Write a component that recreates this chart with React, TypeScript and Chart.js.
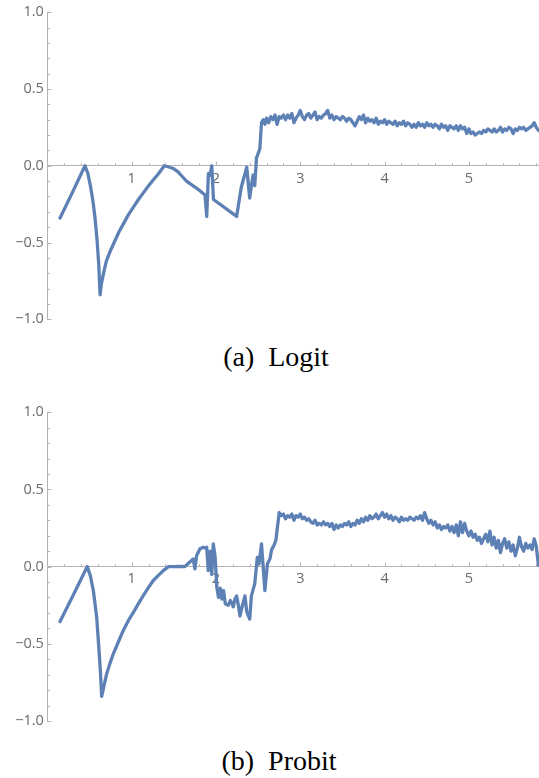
import React, { useEffect, useRef } from "react";
import { Chart, registerables } from "chart.js";

Chart.register(...registerables);

// ---------- data ----------
// Logit: irregular part (x, y)
const logitX = [0.15, 0.30, 0.446, 0.48, 0.51, 0.54, 0.565, 0.59, 0.61, 0.625, 0.64, 0.67, 0.70, 0.75, 0.80, 0.85, 0.90, 0.96, 1.02, 1.08, 1.14, 1.20, 1.26, 1.32, 1.387, 1.45, 1.50, 1.55, 1.60, 1.65, 1.70, 1.78, 1.87, 1.89, 1.91, 1.93, 1.95, 1.97, 2.245, 2.30, 2.365, 2.40, 2.42, 2.44, 2.46, 2.48, 2.52, 2.54, 2.56, 2.58];
const logitY = [-0.34, -0.17, 0.0, -0.05, -0.13, -0.23, -0.34, -0.49, -0.65, -0.84, -0.77, -0.69, -0.62, -0.55, -0.49, -0.43, -0.38, -0.32, -0.27, -0.22, -0.175, -0.13, -0.09, -0.05, 0.0, -0.01, -0.02, -0.04, -0.07, -0.10, -0.12, -0.15, -0.19, -0.33, -0.05, -0.06, 0.0, -0.22, -0.33, -0.14, -0.01, -0.21, -0.13, -0.06, -0.13, 0.05, 0.11, 0.28, 0.30, 0.27];
// Logit: densely sampled part, starting at x = 2.6, sample spacing 0.025
const logitDenseStart = 2.6;
const logitDenseY = [
  0.31, 0.28, 0.32, 0.30, 0.33, 0.27, 0.32, 0.31, 0.33, 0.30,
  0.33, 0.31, 0.34, 0.28, 0.31, 0.33, 0.36, 0.32, 0.30, 0.33,
  0.34, 0.31, 0.33, 0.35, 0.30, 0.32, 0.31, 0.33, 0.34, 0.36,
  0.31, 0.33, 0.30, 0.32, 0.31, 0.30, 0.32, 0.31, 0.29, 0.31,
  0.30, 0.28, 0.26, 0.29, 0.32, 0.30, 0.33, 0.28, 0.31, 0.29,
  0.30, 0.28, 0.31, 0.27, 0.29, 0.28, 0.30, 0.27, 0.29, 0.28,
  0.27, 0.29, 0.26, 0.28, 0.27, 0.29, 0.26, 0.28, 0.27, 0.25,
  0.27, 0.25, 0.28, 0.26, 0.27, 0.25, 0.28, 0.26, 0.27, 0.25,
  0.27, 0.26, 0.24, 0.27, 0.25, 0.26, 0.23, 0.26, 0.25, 0.24,
  0.26, 0.23, 0.26, 0.24, 0.25, 0.21, 0.24, 0.21, 0.22, 0.20,
  0.21, 0.22, 0.21, 0.23, 0.22, 0.24, 0.23, 0.22, 0.24, 0.22,
  0.23, 0.25, 0.22, 0.24, 0.23, 0.25, 0.24, 0.21, 0.24, 0.23,
  0.25, 0.24, 0.25, 0.23, 0.24, 0.25, 0.26, 0.28, 0.25, 0.23,
];

// Probit: irregular part (x, y)
const probitX = [0.15, 0.31, 0.473, 0.51, 0.545, 0.585, 0.612, 0.63, 0.644, 0.66, 0.703, 0.74, 0.782, 0.84, 0.90, 0.96, 1.02, 1.08, 1.137, 1.20, 1.256, 1.32, 1.375, 1.435, 1.50, 1.56, 1.63, 1.67, 1.69, 1.73, 1.75, 1.77, 1.81, 1.85, 1.87, 1.89, 1.908, 1.93, 1.95, 1.968, 1.99, 2.01, 2.03, 2.05, 2.07, 2.09, 2.11, 2.146, 2.17, 2.186, 2.205, 2.225, 2.245, 2.265, 2.285, 2.305, 2.324, 2.344, 2.364, 2.40, 2.42, 2.46, 2.49, 2.51, 2.54, 2.58, 2.61, 2.64, 2.66, 2.69, 2.71];
const probitY = [-0.356, -0.18, 0.0, -0.06, -0.155, -0.33, -0.54, -0.69, -0.84, -0.80, -0.695, -0.63, -0.565, -0.49, -0.414, -0.35, -0.296, -0.24, -0.188, -0.135, -0.09, -0.055, -0.026, 0.0, 0.0, 0.002, 0.0, 0.02, 0.03, 0.05, -0.015, 0.07, 0.115, 0.125, 0.12, 0.125, -0.026, 0.10, -0.05, 0.147, 0.06, -0.134, -0.20, -0.14, -0.21, -0.155, -0.24, -0.25, -0.22, -0.235, -0.26, -0.21, -0.19, -0.25, -0.32, -0.27, -0.23, -0.19, -0.29, -0.34, -0.19, -0.11, 0.06, 0.017, 0.147, -0.155, 0.017, 0.05, 0.11, 0.14, 0.17];
// Probit: densely sampled part, starting at x = 2.75, sample spacing 0.025
const probitDenseStart = 2.75;
const probitDenseY = [
  0.35, 0.33, 0.34, 0.31, 0.33, 0.32, 0.34, 0.30, 0.33, 0.32,
  0.34, 0.31, 0.32, 0.30, 0.31, 0.29, 0.28, 0.30, 0.27, 0.28,
  0.27, 0.29, 0.27, 0.28, 0.26, 0.28, 0.24, 0.27, 0.25, 0.27,
  0.26, 0.28, 0.27, 0.29, 0.26, 0.28, 0.27, 0.30, 0.28, 0.31,
  0.29, 0.32, 0.30, 0.33, 0.31, 0.32, 0.34, 0.31, 0.33, 0.35,
  0.32, 0.34, 0.31, 0.33, 0.30, 0.32, 0.31, 0.29, 0.32, 0.30,
  0.31, 0.30, 0.32, 0.31, 0.30, 0.32, 0.31, 0.33, 0.30, 0.35,
  0.31, 0.28, 0.30, 0.27, 0.29, 0.25, 0.27, 0.24, 0.26, 0.25,
  0.27, 0.23, 0.26, 0.22, 0.27, 0.20, 0.29, 0.22, 0.28, 0.23,
  0.20, 0.23, 0.19, 0.21, 0.17, 0.19, 0.15, 0.18, 0.21, 0.16,
  0.23, 0.14, 0.19, 0.12, 0.17, 0.09, 0.15, 0.18, 0.12, 0.16,
  0.10, 0.14, 0.07, 0.12, 0.19, 0.13, 0.10, 0.15, 0.12, 0.14,
  0.11, 0.18, 0.13, 0.01,
];
const denseSpacing = 0.025;

// axes
const xMin = 0;
const xMax = 5.832;
const yMin = -1;
const yMax = 1;
const xMajorTicks = [1, 2, 3, 4, 5];
const xMinorTicks = [0.2, 0.4, 0.6, 0.8, 1.2, 1.4, 1.6, 1.8, 2.2, 2.4, 2.6, 2.8, 3.2, 3.4, 3.6, 3.8, 4.2, 4.4, 4.6, 4.8, 5.2, 5.4, 5.6, 5.8];
const yMajorTicks = [-1, -0.5, 0, 0.5, 1];
const yMinorTicks = [-0.9, -0.8, -0.7, -0.6, -0.4, -0.3, -0.2, -0.1, 0.1, 0.2, 0.3, 0.4, 0.6, 0.7, 0.8, 0.9];

const LINE_COLOR = "#5E81B5";
const AXIS_COLOR = "#b3b3b3";
const LABEL_COLOR = "#6b6b6b";
const TICK_FONT = { family: '"Open Sans", "DejaVu Sans", sans-serif', size: 14.5 };

function buildPoints(xs: number[], ys: number[], denseStart: number, denseY: number[]) {
  const pts: { x: number; y: number }[] = xs.map((x, i) => ({ x, y: ys[i] }));
  denseY.forEach((y, i) => pts.push({ x: denseStart + i * denseSpacing, y }));
  return pts;
}

const tickMarks = {
  id: "tickMarks",
  beforeDatasetsDraw(chart: any) {
    const { ctx, scales, chartArea } = chart;
    const x = scales.x;
    const y = scales.y;
    const y0 = y.getPixelForValue(0);
    const left = chartArea.left;
    ctx.save();
    ctx.strokeStyle = AXIS_COLOR;
    ctx.lineWidth = 1;
    ctx.beginPath();
    yMajorTicks.forEach((v) => {
      const p = Math.round(y.getPixelForValue(v)) + 0.5;
      ctx.moveTo(left, p);
      ctx.lineTo(left + 4, p);
    });
    yMinorTicks.forEach((v) => {
      const p = Math.round(y.getPixelForValue(v)) + 0.5;
      ctx.moveTo(left, p);
      ctx.lineTo(left + 2.5, p);
    });
    xMajorTicks.forEach((v) => {
      const p = Math.round(x.getPixelForValue(v)) + 0.5;
      ctx.moveTo(p, y0);
      ctx.lineTo(p, y0 - 4);
    });
    xMinorTicks.forEach((v) => {
      const p = Math.round(x.getPixelForValue(v)) + 0.5;
      ctx.moveTo(p, y0);
      ctx.lineTo(p, y0 - 2.5);
    });
    ctx.stroke();
    ctx.restore();
  },
};

function fmtY(v: number) {
  const s = Math.abs(v).toFixed(1);
  return v < 0 ? "\u2212" + s : s;
}

function PlotPanel(props: { points: { x: number; y: number }[]; top: number; padTop: number; padBottom: number }) {
  const ref = useRef<HTMLCanvasElement | null>(null);
  useEffect(() => {
    if (!ref.current) return;
    const chart = new Chart(ref.current, {
      type: "line",
      data: {
        datasets: [
          {
            data: props.points,
            borderColor: LINE_COLOR,
            borderWidth: 3.3,
            pointRadius: 0,
            tension: 0,
            fill: false,
            borderJoinStyle: "round",
            borderCapStyle: "round",
          },
        ],
      },
      options: {
        animation: false,
        responsive: false,
        maintainAspectRatio: false,
        events: [],
        layout: { padding: { top: props.padTop, bottom: props.padBottom, left: 0, right: 0 } },
        plugins: { legend: { display: false }, tooltip: { enabled: false } },
        scales: {
          x: {
            type: "linear",
            min: xMin,
            max: xMax,
            position: { y: 0 },
            grid: { display: true, drawOnChartArea: false, drawTicks: false },
            border: { display: true, color: AXIS_COLOR, width: 1 },
            ticks: {
              stepSize: 1,
              includeBounds: false,
              autoSkip: false,
              maxRotation: 0,
              padding: 4,
              color: LABEL_COLOR,
              font: TICK_FONT,
              callback: (v: any) => (Number(v) === 0 ? "" : String(v)),
            },
          },
          y: {
            type: "linear",
            min: yMin,
            max: yMax,
            position: "left",
            afterFit: (s: any) => {
              s.width = 47.4;
            },
            grid: { display: true, drawOnChartArea: false, drawTicks: false },
            border: { display: true, color: AXIS_COLOR, width: 1 },
            ticks: {
              stepSize: 0.5,
              padding: 3.5,
              color: LABEL_COLOR,
              font: TICK_FONT,
              callback: (v: any) => fmtY(Number(v)),
            },
          },
        },
      },
      plugins: [tickMarks],
    } as any);
    return () => chart.destroy();
  }, []);
  return (
    <div style={{ position: "absolute", left: 0, top: props.top, width: 539, height: 340 }}>
      <canvas ref={ref} width={539} height={340} style={{ display: "block", width: 539, height: 340 }} />
    </div>
  );
}

const captionStyle: React.CSSProperties = {
  position: "absolute",
  width: 539,
  textAlign: "center",
  fontFamily: '"Liberation Serif", "DejaVu Serif", serif',
  fontSize: 28,
  lineHeight: "28px",
  color: "#000",
  whiteSpace: "pre",
};

export default function App() {
  const logitPts = buildPoints(logitX, logitY, logitDenseStart, logitDenseY);
  const probitPts = buildPoints(probitX, probitY, probitDenseStart, probitDenseY);
  return (
    <div style={{ position: "absolute", left: 0, top: 0, width: 539, height: 778, background: "#fff", overflow: "hidden" }}>
      <PlotPanel points={logitPts} top={0} padTop={11} padBottom={20.7} />
      <div style={{ ...captionStyle, left: 6.5, top: 343 }}>{"(a)  Logit"}</div>
      <PlotPanel points={probitPts} top={400} padTop={12} padBottom={19} />
      <div style={{ ...captionStyle, left: 9.5, top: 747 }}>{"(b)  Probit"}</div>
    </div>
  );
}
